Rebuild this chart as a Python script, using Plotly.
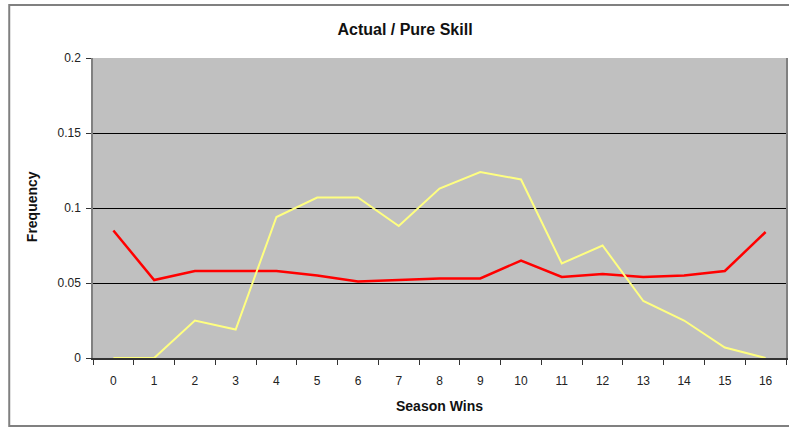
import plotly.graph_objects as go

wins = [str(i) for i in range(17)]
red_freq = [0.085, 0.052, 0.058, 0.058, 0.058, 0.055, 0.051, 0.052, 0.053,
            0.053, 0.065, 0.054, 0.056, 0.054, 0.055, 0.058, 0.084]
yellow_freq = [0.0, 0.0, 0.025, 0.019, 0.094, 0.107, 0.107, 0.088, 0.113,
               0.124, 0.119, 0.063, 0.075, 0.038, 0.025, 0.007, 0.0]

FONT = "Liberation Sans, Arial, sans-serif"

fig = go.Figure()
fig.add_trace(go.Scatter(x=wins, y=red_freq, mode="lines",
                         line=dict(color="#ff0000", width=2.5), name="Actual"))
fig.add_trace(go.Scatter(x=wins, y=yellow_freq, mode="lines",
                         line=dict(color="#ffff80", width=2), name="Pure Skill"))

fig.update_layout(
    width=789, height=429,
    margin=dict(l=93, r=1, t=58, b=71),
    paper_bgcolor="white",
    plot_bgcolor="#c0c0c0",
    showlegend=False,
    font=dict(family=FONT, size=12, color="#222222"),
    title=dict(text="<b>Actual / Pure Skill</b>", x=405 / 789, xref="container",
               xanchor="center", y=1 - 29 / 429, yanchor="middle",
               font=dict(size=16, color="#111111")),
)
fig.update_xaxes(
    type="category", range=[-0.5, 16.5], tickson="boundaries",
    ticks="outside", ticklen=5, tickcolor="#333333",
    showgrid=False, showline=True, linecolor="#333333", linewidth=1.5,
    ticklabelstandoff=11, tickfont=dict(size=12),
)
fig.update_yaxes(
    range=[0, 0.2], dtick=0.05, ticks="outside", ticklen=5,
    tickcolor="#333333", showgrid=True, gridcolor="#000000", gridwidth=1,
    showline=True, linecolor="#808080", linewidth=1.5, mirror=True,
    zeroline=False, tickfont=dict(size=12), ticklabelstandoff=3,
)

# axis titles
fig.add_annotation(text="<b>Season Wins</b>", xref="paper", yref="paper",
                   x=(440 - 93) / 695, y=(358 - 406) / 300, showarrow=False,
                   xanchor="center", yanchor="middle",
                   font=dict(size=14, color="#111111"))
fig.add_annotation(text="<b>Frequency</b>", xref="paper", yref="paper",
                   x=(32 - 93) / 695, y=(358 - 207) / 300, showarrow=False,
                   textangle=-90, xanchor="center", yanchor="middle",
                   font=dict(size=14, color="#111111"))

# outer chart frame
fig.add_shape(type="rect", xref="paper", yref="paper",
              x0=(9 - 93) / 695, x1=(800 - 93) / 695,
              y0=(358 - 426) / 300, y1=(358 - 5) / 300,
              line=dict(color="#808080", width=2), layer="below")

fig.write_html("out.html", config={"displayModeBar": False},
               post_script="document.body.style.margin='0px';")
